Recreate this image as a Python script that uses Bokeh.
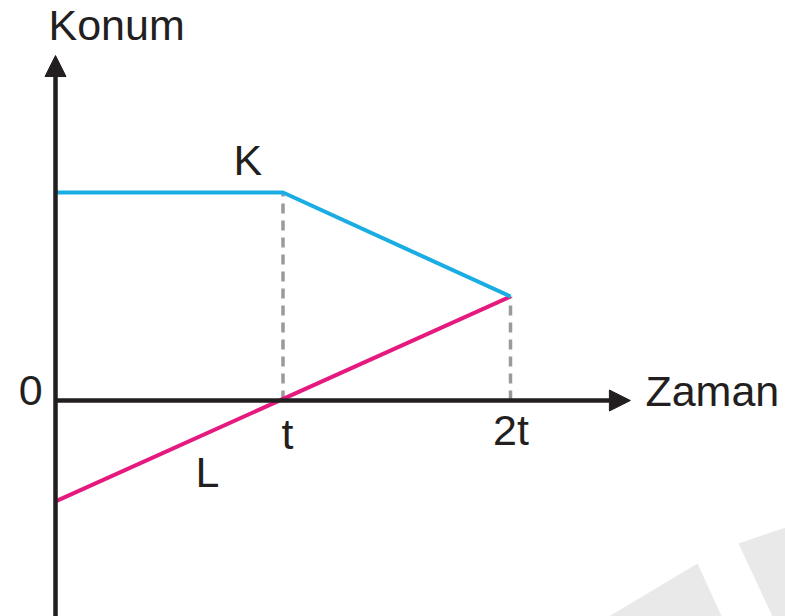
from bokeh.plotting import figure
from bokeh.models import Range1d, Arrow, NormalHead
from bokeh.core.properties import value
from bokeh.embed import file_html
from bokeh.resources import INLINE

# ---- data ----
k_time = [0, 1, 2]
k_pos = [2, 2, 1]
l_time = [0, 2]
l_pos = [-0.97, 1.0]
tick_time = [1, 2]
tick_labels = ["t", "2t"]
x_title = "Zaman"
y_title = "Konum"
origin_label = "0"
series_labels = ["K", "L"]

FONT = value("Liberation Sans")
INK = "#231f20"
K_COLOR = "#1aade4"
L_COLOR = "#e5197e"
DASH_COLOR = "#9a9a9b"

p = figure(width=785, height=616, output_backend="svg", toolbar_location=None,
           x_range=Range1d(-0.2418, 3.2088), y_range=Range1d(-2.0769, 3.8462),
           x_axis_location=None, y_axis_location=None, min_border=0)
p.grid.visible = False
p.outline_line_color = None
p.background_fill_color = "white"
p.border_fill_color = "white"

# faint watermark bands (background decoration)
p.patch([2.338, 2.822, 2.954, 2.9], [-2.2, -1.567, -2.2, -2.2],
        fill_color="#e9e9e9", line_color=None)
p.patch([3.002, 3.3, 3.3, 3.178], [-1.375, -1.154, -2.2, -2.2],
        fill_color="#e9e9e9", line_color=None)

# axes with arrow heads
p.add_layout(Arrow(x_start=0, y_start=-2.2, x_end=0, y_end=3.317,
                   line_width=4.5, line_color=INK,
                   end=NormalHead(size=21, fill_color=INK, line_color=INK, line_width=1)))
p.add_layout(Arrow(x_start=0, y_start=0, x_end=2.527, y_end=0,
                   line_width=4.5, line_color=INK,
                   end=NormalHead(size=21, fill_color=INK, line_color=INK, line_width=1)))

# dashed guides
p.segment(x0=tick_time, y0=[0, 0], x1=tick_time, y1=[k_pos[1], k_pos[2]],
          line_color=DASH_COLOR, line_width=3.5, line_dash="10 7")

# series
p.line(l_time, l_pos, line_color=L_COLOR, line_width=4)
p.line(k_time, k_pos, line_color=K_COLOR, line_width=4)

# texts
common = dict(text_font=FONT, text_font_size="43px", text_color=INK,
              text_baseline="alphabetic")
p.text(x=[-0.031], y=[3.612], text=[y_title], text_align="left", **common)
p.text(x=[2.593], y=[0.087], text=[x_title], text_align="left", **common)
p.text(x=[-0.057], y=[0.096], text=[origin_label], text_align="right", **common)
p.text(x=[0.782], y=[2.317], text=[series_labels[0]], text_align="left", **common)
p.text(x=[0.615], y=[-0.683], text=[series_labels[1]], text_align="left", **common)
p.text(x=[tick_time[0] + 0.02], y=[-0.326], text=[tick_labels[0]], text_align="center", **common)
p.text(x=[tick_time[1] + 0.002], y=[-0.279], text=[tick_labels[1]], text_align="center", **common)

open("out.html", "w").write(file_html(p, INLINE))
